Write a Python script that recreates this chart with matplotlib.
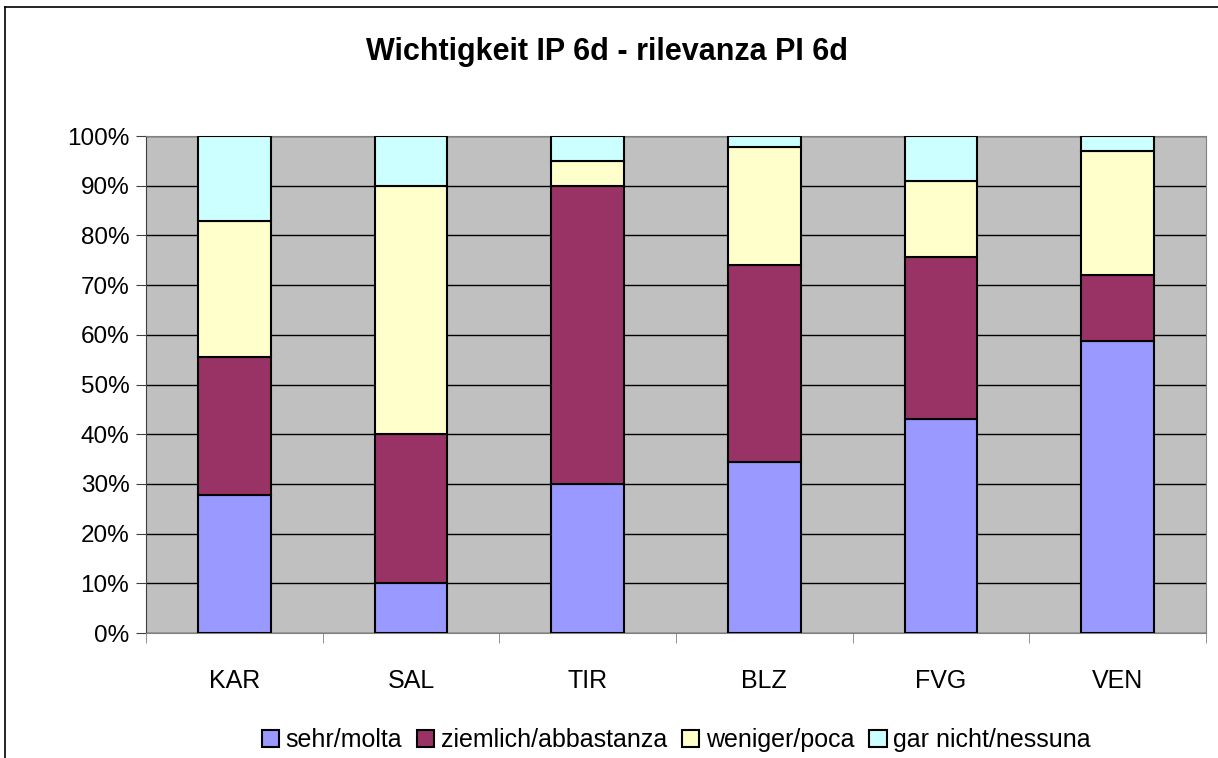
import numpy as np
import matplotlib
matplotlib.use('Agg')
from matplotlib import pyplot as plt
from matplotlib.ticker import PercentFormatter

plt.rcParams['font.family'] = ['Liberation Sans', 'DejaVu Sans']

regions = ['KAR', 'SAL', 'TIR', 'BLZ', 'FVG', 'VEN']
sehr = [27.7, 10.0, 30.0, 34.5, 43.0, 58.7]
ziemlich = [27.8, 30.0, 60.0, 39.6, 32.6, 13.3]
weniger = [27.4, 50.0, 5.0, 23.7, 15.3, 24.9]
gar_nicht = [17.1, 10.0, 5.0, 2.2, 9.1, 3.1]

series = [sehr, ziemlich, weniger, gar_nicht]
labels = ['sehr/molta', 'ziemlich/abbastanza', 'weniger/poca', 'gar nicht/nessuna']
colors = ['#9999FF', '#993366', '#FFFFCC', '#CCFFFF']

fig = plt.figure(figsize=(12.18, 7.58), dpi=100)
ax = fig.add_axes([146/1218, 125/758, 1060/1218, 497/758])
ax.set_facecolor('#C0C0C0')

x = np.arange(len(regions))
bottom = np.zeros(len(regions))
for vals, lab, col in zip(series, labels, colors):
    ax.bar(x, vals, 0.41, bottom=bottom, color=col, edgecolor='black',
           linewidth=1.5, label=lab, zorder=3)
    bottom += np.array(vals)

ax.set_xlim(-0.5, len(regions) - 0.5)
ax.set_ylim(0, 100)
ax.set_yticks(np.arange(0, 101, 10))
ax.yaxis.set_major_formatter(PercentFormatter(decimals=0))
ax.grid(axis='y', color='black', linewidth=1, zorder=0)
ax.set_axisbelow(True)

ax.set_xticks(x)
ax.set_xticklabels(regions)
ax.set_xticks(np.arange(-0.5, len(regions)), minor=True)
ax.tick_params(axis='x', which='major', length=0, pad=26, labelsize=18)
ax.tick_params(axis='x', which='minor', length=7, color='#808080', direction='out')
ax.tick_params(axis='y', length=7, color='#404040', labelsize=17.5, pad=5)
for s in ax.spines.values():
    s.set_color('#808080')
ax.spines['left'].set_color('#404040')

fig.text(607/1218, 1 - 52/758, 'Wichtigkeit IP 6d - rilevanza PI 6d',
         ha='center', va='center', fontsize=22, fontweight='bold')

fig.legend(loc='center', bbox_to_anchor=(676/1218, 1 - 740/758), ncol=4,
           frameon=False, fontsize=18, handlelength=0.7, handleheight=0.7,
           handletextpad=0.25, columnspacing=0.6, borderaxespad=0)

# outer chart frame
fig.add_artist(plt.Line2D([5/1218, 5/1218], [0, 1 - 7/758], color='black', linewidth=1.2))
fig.add_artist(plt.Line2D([5/1218, 1], [1 - 7/758, 1 - 7/758], color='black', linewidth=1.2))

fig.savefig('out.png', dpi=100)
